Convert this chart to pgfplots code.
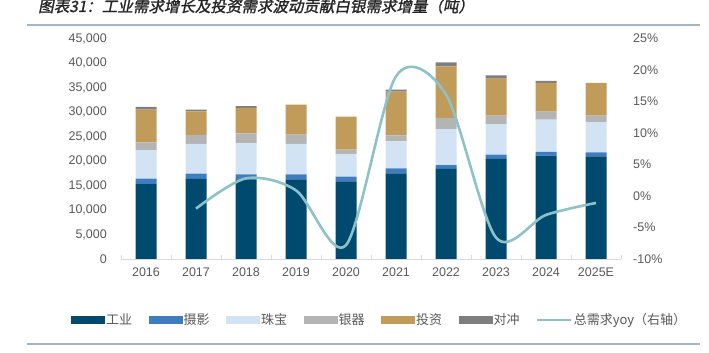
\documentclass[border=0pt]{standalone}
\usepackage{fontspec}
\setmainfont{Liberation Sans}
\newfontfamily\cjk{Noto Sans CJK SC}
\newfontfamily\cjktitle[FakeSlant=0.2,FakeBold=1.5]{Noto Sans CJK SC}
\usepackage{pgfplots}
\pgfplotsset{compat=1.18}
\definecolor{cInd}{HTML}{004A70}
\definecolor{cPho}{HTML}{3F7DC0}
\definecolor{cJew}{HTML}{D2E3F3}
\definecolor{cSil}{HTML}{B4B4B4}
\definecolor{cInv}{HTML}{C09B5A}
\definecolor{cHed}{HTML}{7F7F7F}
\definecolor{cLine}{HTML}{8DC2CA}
\definecolor{tickgray}{HTML}{595959}
\definecolor{axisgray}{HTML}{D9D9D9}
\definecolor{sepcol}{HTML}{A3B6C8}
\definecolor{titlecol}{HTML}{262626}
\pgfplotsset{
  barleg/.style={legend image code/.code={\fill[##1] (0pt,-4pt) rectangle (34pt,4pt);}},
}
\begin{document}
\begin{tikzpicture}[x=1pt,y=1pt]
\path[use as bounding box] (0,0) rectangle (709,353);
\node[anchor=base west, inner sep=0pt, text=titlecol, font=\cjktitle\fontsize{15.5}{16}\selectfont] at (38,341) {图表31：工业需求增长及投资需求波动贡献白银需求增量（吨）};
\draw[sepcol, line width=1.2pt] (27,328) -- (700,328);
\draw[sepcol, line width=1.2pt] (27,9) -- (700,9);
\begin{axis}[
  at={(121pt,94pt)}, anchor=south west,
  scale only axis, width=500pt, height=220.5pt,
  ybar stacked, bar width=21pt,
  xmin=-0.5, xmax=9.5, ymin=0, ymax=45000,
  axis x line*=bottom, axis y line*=left,
  y axis line style={draw=none},
  x axis line style={axisgray, line width=0.8pt},
  xtick={0,...,9},
  xticklabels={2016,2017,2018,2019,2020,2021,2022,2023,2024,2025E},
  major x tick style={draw=none},
  minor xtick={-0.5,0.5,...,9.5},
  minor tick length=4pt, tick align=inside,
  minor x tick style={axisgray, line width=0.8pt},
  ytick={0,5000,...,45000},
  ytick style={draw=none},
  scaled y ticks=false,
  /pgf/number format/1000 sep={,},
  /pgf/number format/assume math mode=true,
  tick label style={font=\fontsize{12.5}{14}\selectfont, text=tickgray},
  xticklabel style={inner sep=0pt, yshift=-9pt},
  yticklabel style={inner sep=0pt, xshift=-14pt},
  legend columns=-1,
  legend style={draw=none, fill=none, at={(-0.1,-0.2766)}, anchor=west,
    inner sep=0pt, font=\cjk\fontsize{13}{14}\selectfont, text=tickgray,
    nodes={inner sep=1pt},
    /tikz/every even column/.append style={column sep=15.5pt}},
  legend cell align=left,
]
\addplot[fill=cInd, draw=none, barleg] coordinates {(0,15300) (1,16330) (2,16240) (3,16240) (4,15840) (5,17470) (6,18370) (7,20410) (8,21080) (9,20940)};
\addlegendentry{工业}
\addplot[fill=cPho, draw=none, barleg] coordinates {(0,1090) (1,1080) (2,1030) (3,1030) (4,960) (5,1020) (6,810) (7,880) (8,760) (9,820)};
\addlegendentry{摄影}
\addplot[fill=cJew, draw=none, barleg] coordinates {(0,5770) (1,6060) (2,6320) (3,6200) (4,4630) (5,5510) (6,7350) (7,6260) (8,6590) (9,6120)};
\addlegendentry{珠宝}
\addplot[fill=cSil, draw=none, barleg] coordinates {(0,1630) (1,1840) (2,2040) (3,1900) (4,880) (5,1220) (6,2250) (7,1690) (8,1630) (9,1360)};
\addlegendentry{银器}
\addplot[fill=cInv, draw=none, barleg] coordinates {(0,6670) (1,4810) (2,5190) (3,6120) (4,6730) (5,8920) (6,10530) (7,7560) (8,5860) (9,6680)};
\addlegendentry{投资}
\addplot[fill=cHed, draw=none, barleg] coordinates {(0,610) (1,350) (2,400) (3,0) (4,0) (5,410) (6,810) (7,670) (8,410) (9,0)};
\addlegendentry{对冲}
\addlegendimage{legend image code/.code={\draw[cLine, line width=2.6pt] (0pt,0pt) -- (34pt,0pt);}}
\addlegendentry{总需求yoy（右轴）}
\end{axis}
\begin{axis}[
  at={(121pt,94pt)}, anchor=south west,
  scale only axis, width=500pt, height=220.5pt,
  xmin=-0.5, xmax=9.5, ymin=-10, ymax=25,
  axis x line=none, axis y line*=right,
  y axis line style={draw=none},
  ytick={-10,-5,...,25},
  ytick style={draw=none},
  /pgf/number format/assume math mode=true,
  yticklabel={\pgfmathprintnumber{\tick}\%},
  tick label style={font=\fontsize{12.5}{14}\selectfont, text=tickgray},
  yticklabel style={inner sep=0pt, xshift=12pt},
]
\addplot[smooth, cLine, line width=2.6pt] coordinates {(1,-2.0) (2,2.8) (3,0.9) (4,-7.8) (5,19.0) (6,16.1) (7,-6.6) (8,-3.0) (9,-1.1)};
\end{axis}
\end{tikzpicture}
\end{document}
